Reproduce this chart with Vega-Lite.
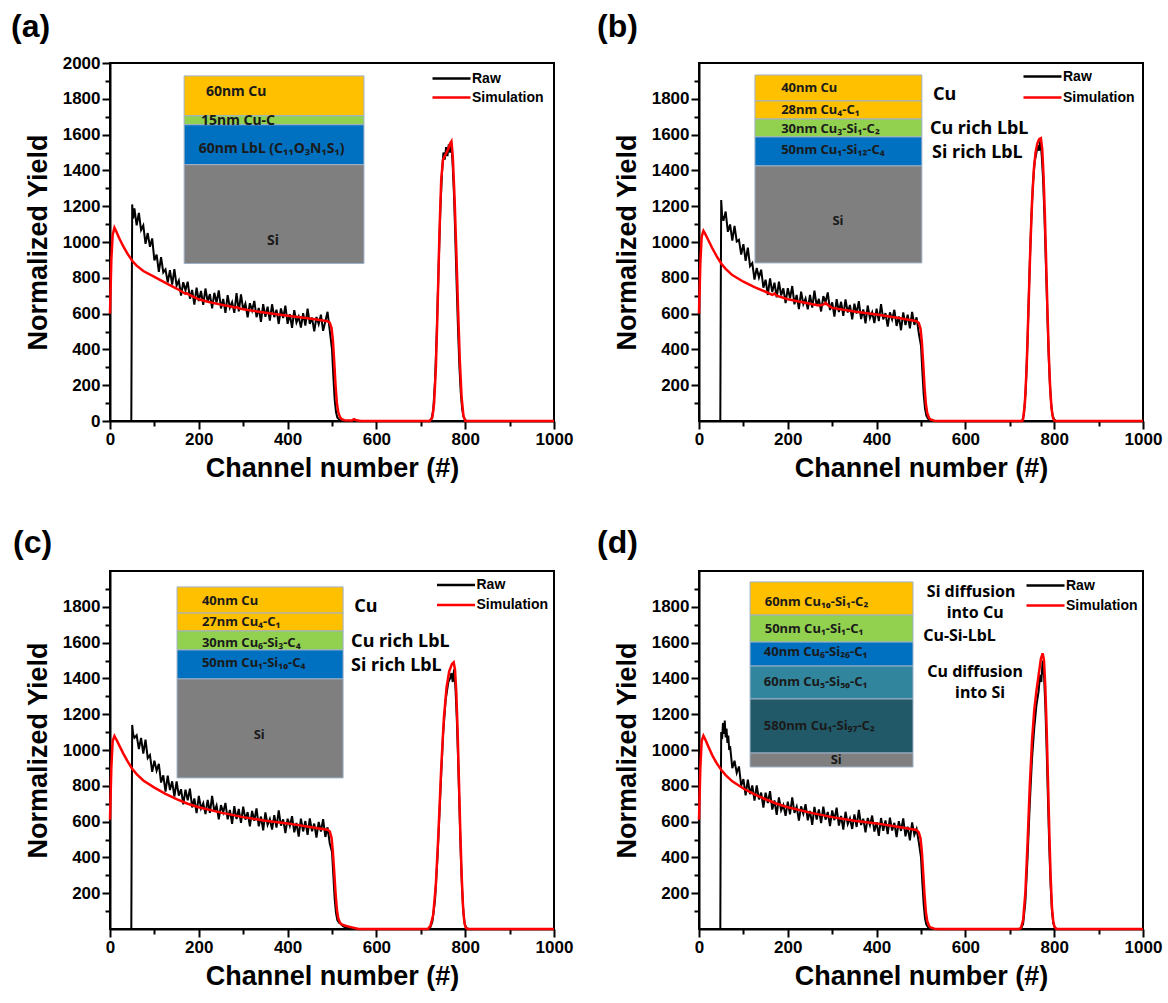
{
"$schema":"https://vega.github.io/schema/vega-lite/v6.json",
"background":"white",
"padding":{"left":10,"top":10,"right":5,"bottom":5},
"config":{
"view":{"stroke":"black","strokeWidth":2},
"font":"Liberation Sans",
"axis":{"domainColor":"black","domainWidth":2,"tickColor":"black","tickWidth":2,"labelFont":"Liberation Sans","labelFontWeight":"bold","labelFontSize":17,"labelColor":"black","titleFont":"Liberation Sans","titleFontWeight":"bold","titleFontSize":27,"titleColor":"black","grid":false,"labelFlush":false,"labelOverlap":false,"labelPadding":2},
"axisX":{"titlePadding":8},
"axisY":{"titlePadding":10},
"legend":{"labelFont":"Liberation Sans","labelFontWeight":"bold","labelFontSize":14,"labelColor":"black","symbolType":"M-2,0H2","symbolSize":361,"symbolStrokeWidth":2.5,"rowPadding":1,"padding":0,"orient":"none","labelOffset":9.5}
},
"datasets":{
"ra":[{"c":0,"y":0},{"c":47,"y":0},{"c":48,"y":0},{"c":49,"y":650},{"c":50,"y":1210},{"c":52,"y":1130},{"c":55,"y":1188},{"c":60,"y":1093},{"c":65,"y":1162},{"c":70,"y":1067},{"c":75,"y":1092},{"c":80,"y":990},{"c":85,"y":1050},{"c":90,"y":973},{"c":95,"y":1020},{"c":100,"y":897},{"c":105,"y":930},{"c":110,"y":833},{"c":115,"y":915},{"c":120,"y":830},{"c":125,"y":847},{"c":130,"y":774},{"c":135,"y":843},{"c":140,"y":762},{"c":145,"y":849},{"c":150,"y":756},{"c":155,"y":784},{"c":160,"y":701},{"c":165,"y":775},{"c":170,"y":730},{"c":175,"y":778},{"c":180,"y":683},{"c":185,"y":732},{"c":190,"y":650},{"c":195,"y":745},{"c":200,"y":670},{"c":205,"y":727},{"c":210,"y":649},{"c":215,"y":740},{"c":220,"y":667},{"c":225,"y":709},{"c":230,"y":629},{"c":235,"y":716},{"c":240,"y":661},{"c":245,"y":730},{"c":250,"y":629},{"c":255,"y":682},{"c":260,"y":604},{"c":265,"y":703},{"c":270,"y":633},{"c":275,"y":664},{"c":280,"y":604},{"c":285,"y":715},{"c":290,"y":613},{"c":295,"y":708},{"c":300,"y":622},{"c":305,"y":656},{"c":310,"y":579},{"c":315,"y":658},{"c":320,"y":618},{"c":325,"y":671},{"c":330,"y":580},{"c":335,"y":632},{"c":340,"y":554},{"c":345,"y":653},{"c":350,"y":582},{"c":355,"y":639},{"c":360,"y":561},{"c":365,"y":652},{"c":370,"y":580},{"c":375,"y":622},{"c":380,"y":542},{"c":385,"y":629},{"c":390,"y":575},{"c":395,"y":644},{"c":400,"y":543},{"c":405,"y":597},{"c":410,"y":520},{"c":415,"y":619},{"c":420,"y":550},{"c":425,"y":582},{"c":430,"y":522},{"c":435,"y":603},{"c":440,"y":533},{"c":445,"y":628},{"c":450,"y":543},{"c":455,"y":578},{"c":460,"y":501},{"c":465,"y":581},{"c":470,"y":541},{"c":475,"y":594},{"c":480,"y":504},{"c":485,"y":557},{"c":490,"y":610},{"c":495,"y":505},{"c":500,"y":400},{"c":503,"y":250},{"c":506,"y":120},{"c":509,"y":50},{"c":512,"y":20},{"c":516,"y":8},{"c":520,"y":3},{"c":525,"y":0},{"c":720,"y":0},{"c":724,"y":10},{"c":728,"y":60},{"c":732,"y":220},{"c":736,"y":500},{"c":740,"y":850},{"c":744,"y":1180},{"c":748,"y":1400},{"c":751,"y":1500},{"c":754,"y":1460},{"c":757,"y":1530},{"c":760,"y":1480},{"c":763,"y":1545},{"c":766,"y":1500},{"c":769,"y":1550},{"c":772,"y":1420},{"c":775,"y":1250},{"c":778,"y":1000},{"c":781,"y":740},{"c":784,"y":500},{"c":787,"y":300},{"c":790,"y":160},{"c":793,"y":70},{"c":796,"y":25},{"c":800,"y":5},{"c":804,"y":0},{"c":1000,"y":0}],
"sa":[{"c":0,"y":600},{"c":3,"y":900},{"c":6,"y":1040},{"c":10,"y":1080},{"c":14,"y":1060},{"c":20,"y":1025},{"c":30,"y":975},{"c":40,"y":932},{"c":50,"y":895},{"c":60,"y":868},{"c":75,"y":838},{"c":100,"y":805},{"c":125,"y":772},{"c":150,"y":740},{"c":165,"y":718},{"c":170,"y":710},{"c":173,"y":714},{"c":178,"y":706},{"c":200,"y":680},{"c":225,"y":663},{"c":250,"y":650},{"c":275,"y":638},{"c":282,"y":633},{"c":286,"y":636},{"c":292,"y":628},{"c":300,"y":624},{"c":350,"y":605},{"c":400,"y":588},{"c":450,"y":572},{"c":490,"y":557},{"c":495,"y":548},{"c":499,"y":520},{"c":502,"y":450},{"c":505,"y":330},{"c":508,"y":200},{"c":511,"y":100},{"c":514,"y":50},{"c":518,"y":22},{"c":522,"y":10},{"c":528,"y":4},{"c":545,"y":3},{"c":550,"y":10},{"c":555,"y":4},{"c":565,"y":0},{"c":720,"y":0},{"c":726,"y":20},{"c":730,"y":100},{"c":734,"y":300},{"c":738,"y":650},{"c":742,"y":1050},{"c":746,"y":1350},{"c":750,"y":1460},{"c":754,"y":1480},{"c":758,"y":1500},{"c":762,"y":1520},{"c":766,"y":1550},{"c":769,"y":1562},{"c":772,"y":1480},{"c":776,"y":1250},{"c":780,"y":950},{"c":784,"y":620},{"c":788,"y":330},{"c":792,"y":130},{"c":796,"y":30},{"c":800,"y":0},{"c":1000,"y":0}],
"rb":[{"c":0,"y":0},{"c":47,"y":0},{"c":48,"y":0},{"c":49,"y":700},{"c":50,"y":1235},{"c":52,"y":1150},{"c":55,"y":1118},{"c":60,"y":1170},{"c":65,"y":1057},{"c":70,"y":1098},{"c":75,"y":1008},{"c":80,"y":1090},{"c":85,"y":1003},{"c":90,"y":1012},{"c":95,"y":930},{"c":100,"y":988},{"c":105,"y":895},{"c":110,"y":968},{"c":115,"y":865},{"c":120,"y":882},{"c":125,"y":790},{"c":130,"y":855},{"c":135,"y":802},{"c":140,"y":845},{"c":145,"y":745},{"c":150,"y":789},{"c":155,"y":704},{"c":160,"y":797},{"c":165,"y":720},{"c":170,"y":773},{"c":175,"y":691},{"c":180,"y":778},{"c":185,"y":702},{"c":190,"y":741},{"c":195,"y":658},{"c":200,"y":742},{"c":205,"y":686},{"c":210,"y":754},{"c":215,"y":652},{"c":220,"y":704},{"c":225,"y":625},{"c":230,"y":723},{"c":235,"y":653},{"c":240,"y":684},{"c":245,"y":624},{"c":250,"y":704},{"c":255,"y":633},{"c":260,"y":728},{"c":265,"y":643},{"c":270,"y":682},{"c":275,"y":612},{"c":280,"y":698},{"c":285,"y":664},{"c":290,"y":718},{"c":295,"y":620},{"c":300,"y":663},{"c":305,"y":583},{"c":310,"y":681},{"c":315,"y":609},{"c":320,"y":666},{"c":325,"y":588},{"c":330,"y":679},{"c":335,"y":606},{"c":340,"y":648},{"c":345,"y":568},{"c":350,"y":655},{"c":355,"y":600},{"c":360,"y":670},{"c":365,"y":569},{"c":370,"y":623},{"c":375,"y":545},{"c":380,"y":645},{"c":385,"y":575},{"c":390,"y":607},{"c":395,"y":547},{"c":400,"y":628},{"c":405,"y":558},{"c":410,"y":653},{"c":415,"y":568},{"c":420,"y":603},{"c":425,"y":527},{"c":430,"y":607},{"c":435,"y":567},{"c":440,"y":621},{"c":445,"y":531},{"c":450,"y":584},{"c":455,"y":507},{"c":460,"y":607},{"c":465,"y":536},{"c":470,"y":594},{"c":475,"y":517},{"c":480,"y":609},{"c":485,"y":537},{"c":490,"y":579},{"c":495,"y":490},{"c":500,"y":420},{"c":503,"y":280},{"c":506,"y":150},{"c":509,"y":70},{"c":512,"y":30},{"c":516,"y":12},{"c":520,"y":5},{"c":526,"y":0},{"c":728,"y":0},{"c":732,"y":40},{"c":736,"y":180},{"c":740,"y":450},{"c":744,"y":800},{"c":748,"y":1100},{"c":752,"y":1320},{"c":756,"y":1450},{"c":760,"y":1500},{"c":763,"y":1540},{"c":766,"y":1510},{"c":769,"y":1570},{"c":772,"y":1480},{"c":775,"y":1350},{"c":778,"y":1150},{"c":781,"y":900},{"c":784,"y":650},{"c":787,"y":400},{"c":790,"y":220},{"c":793,"y":100},{"c":796,"y":35},{"c":800,"y":8},{"c":804,"y":0},{"c":1000,"y":0}],
"sb":[{"c":0,"y":600},{"c":3,"y":880},{"c":6,"y":1030},{"c":10,"y":1062},{"c":14,"y":1045},{"c":20,"y":1015},{"c":30,"y":965},{"c":40,"y":920},{"c":50,"y":880},{"c":60,"y":850},{"c":75,"y":815},{"c":100,"y":778},{"c":125,"y":748},{"c":150,"y":722},{"c":165,"y":705},{"c":170,"y":712},{"c":175,"y":700},{"c":200,"y":680},{"c":225,"y":668},{"c":250,"y":655},{"c":270,"y":645},{"c":280,"y":650},{"c":285,"y":660},{"c":290,"y":648},{"c":300,"y":632},{"c":350,"y":612},{"c":400,"y":595},{"c":450,"y":575},{"c":490,"y":557},{"c":495,"y":548},{"c":499,"y":515},{"c":502,"y":440},{"c":505,"y":320},{"c":508,"y":190},{"c":511,"y":95},{"c":514,"y":45},{"c":518,"y":18},{"c":522,"y":8},{"c":530,"y":2},{"c":540,"y":0},{"c":728,"y":0},{"c":730,"y":10},{"c":734,"y":100},{"c":738,"y":300},{"c":742,"y":620},{"c":746,"y":950},{"c":750,"y":1220},{"c":754,"y":1400},{"c":758,"y":1500},{"c":762,"y":1550},{"c":766,"y":1575},{"c":770,"y":1580},{"c":773,"y":1520},{"c":776,"y":1370},{"c":779,"y":1150},{"c":782,"y":880},{"c":785,"y":600},{"c":788,"y":360},{"c":791,"y":180},{"c":794,"y":70},{"c":797,"y":20},{"c":800,"y":3},{"c":803,"y":0},{"c":1000,"y":0}],
"rc":[{"c":0,"y":0},{"c":47,"y":0},{"c":48,"y":0},{"c":49,"y":650},{"c":50,"y":1140},{"c":52,"y":1090},{"c":55,"y":1068},{"c":60,"y":1082},{"c":65,"y":1005},{"c":70,"y":1068},{"c":75,"y":980},{"c":80,"y":1058},{"c":85,"y":955},{"c":90,"y":972},{"c":95,"y":878},{"c":100,"y":940},{"c":105,"y":884},{"c":110,"y":923},{"c":115,"y":818},{"c":120,"y":858},{"c":125,"y":768},{"c":130,"y":857},{"c":135,"y":776},{"c":140,"y":825},{"c":145,"y":740},{"c":150,"y":824},{"c":155,"y":745},{"c":160,"y":781},{"c":165,"y":696},{"c":170,"y":778},{"c":175,"y":719},{"c":180,"y":784},{"c":185,"y":679},{"c":190,"y":729},{"c":195,"y":648},{"c":200,"y":744},{"c":205,"y":673},{"c":210,"y":703},{"c":215,"y":642},{"c":220,"y":721},{"c":225,"y":649},{"c":230,"y":743},{"c":235,"y":656},{"c":240,"y":690},{"c":245,"y":613},{"c":250,"y":692},{"c":255,"y":651},{"c":260,"y":704},{"c":265,"y":613},{"c":270,"y":665},{"c":275,"y":587},{"c":280,"y":686},{"c":285,"y":614},{"c":290,"y":671},{"c":295,"y":593},{"c":300,"y":684},{"c":305,"y":611},{"c":310,"y":653},{"c":315,"y":573},{"c":320,"y":660},{"c":325,"y":605},{"c":330,"y":674},{"c":335,"y":574},{"c":340,"y":628},{"c":345,"y":551},{"c":350,"y":651},{"c":355,"y":582},{"c":360,"y":614},{"c":365,"y":555},{"c":370,"y":636},{"c":375,"y":566},{"c":380,"y":662},{"c":385,"y":577},{"c":390,"y":612},{"c":395,"y":536},{"c":400,"y":616},{"c":405,"y":576},{"c":410,"y":630},{"c":415,"y":540},{"c":420,"y":593},{"c":425,"y":516},{"c":430,"y":616},{"c":435,"y":545},{"c":440,"y":603},{"c":445,"y":526},{"c":450,"y":618},{"c":455,"y":546},{"c":460,"y":589},{"c":465,"y":510},{"c":470,"y":598},{"c":475,"y":544},{"c":480,"y":614},{"c":485,"y":514},{"c":490,"y":568},{"c":495,"y":478},{"c":500,"y":430},{"c":503,"y":300},{"c":506,"y":170},{"c":509,"y":90},{"c":512,"y":50},{"c":516,"y":35},{"c":520,"y":28},{"c":525,"y":15},{"c":530,"y":8},{"c":540,"y":3},{"c":550,"y":0},{"c":720,"y":0},{"c":726,"y":40},{"c":732,"y":160},{"c":738,"y":420},{"c":744,"y":760},{"c":750,"y":1080},{"c":756,"y":1280},{"c":762,"y":1380},{"c":766,"y":1400},{"c":769,"y":1430},{"c":772,"y":1380},{"c":775,"y":1450},{"c":778,"y":1350},{"c":781,"y":1180},{"c":784,"y":950},{"c":787,"y":680},{"c":790,"y":420},{"c":793,"y":220},{"c":796,"y":90},{"c":799,"y":25},{"c":803,"y":5},{"c":808,"y":0},{"c":1000,"y":0}],
"sc":[{"c":0,"y":610},{"c":3,"y":900},{"c":6,"y":1050},{"c":10,"y":1078},{"c":14,"y":1060},{"c":20,"y":1030},{"c":30,"y":980},{"c":40,"y":935},{"c":50,"y":895},{"c":60,"y":865},{"c":75,"y":830},{"c":100,"y":790},{"c":125,"y":755},{"c":150,"y":725},{"c":175,"y":700},{"c":200,"y":680},{"c":250,"y":650},{"c":300,"y":625},{"c":350,"y":605},{"c":400,"y":590},{"c":450,"y":570},{"c":490,"y":555},{"c":495,"y":545},{"c":499,"y":510},{"c":502,"y":430},{"c":505,"y":320},{"c":508,"y":200},{"c":511,"y":110},{"c":514,"y":60},{"c":518,"y":35},{"c":522,"y":25},{"c":530,"y":18},{"c":540,"y":12},{"c":550,"y":6},{"c":560,"y":0},{"c":716,"y":0},{"c":722,"y":20},{"c":728,"y":80},{"c":734,"y":250},{"c":740,"y":550},{"c":746,"y":900},{"c":752,"y":1180},{"c":758,"y":1350},{"c":764,"y":1440},{"c":770,"y":1480},{"c":774,"y":1490},{"c":777,"y":1450},{"c":780,"y":1320},{"c":783,"y":1100},{"c":786,"y":820},{"c":789,"y":540},{"c":792,"y":300},{"c":795,"y":130},{"c":798,"y":40},{"c":801,"y":8},{"c":805,"y":0},{"c":1000,"y":0}],
"rd":[{"c":0,"y":0},{"c":47,"y":0},{"c":48,"y":0},{"c":49,"y":700},{"c":50,"y":1100},{"c":52,"y":1060},{"c":54,"y":1150},{"c":56,"y":1090},{"c":58,"y":1165},{"c":60,"y":1070},{"c":62,"y":1120},{"c":64,"y":1040},{"c":66,"y":1080},{"c":68,"y":1000},{"c":70,"y":1022},{"c":75,"y":898},{"c":80,"y":940},{"c":85,"y":872},{"c":90,"y":908},{"c":95,"y":800},{"c":100,"y":837},{"c":105,"y":746},{"c":110,"y":834},{"c":115,"y":753},{"c":120,"y":802},{"c":125,"y":717},{"c":130,"y":802},{"c":135,"y":724},{"c":140,"y":762},{"c":145,"y":678},{"c":150,"y":762},{"c":155,"y":704},{"c":160,"y":770},{"c":165,"y":667},{"c":170,"y":718},{"c":175,"y":638},{"c":180,"y":735},{"c":185,"y":663},{"c":190,"y":693},{"c":195,"y":632},{"c":200,"y":711},{"c":205,"y":640},{"c":210,"y":735},{"c":215,"y":649},{"c":220,"y":683},{"c":225,"y":606},{"c":230,"y":685},{"c":235,"y":644},{"c":240,"y":697},{"c":245,"y":607},{"c":250,"y":660},{"c":255,"y":582},{"c":260,"y":682},{"c":265,"y":611},{"c":270,"y":668},{"c":275,"y":591},{"c":280,"y":683},{"c":285,"y":611},{"c":290,"y":654},{"c":295,"y":575},{"c":300,"y":662},{"c":305,"y":608},{"c":310,"y":678},{"c":315,"y":578},{"c":320,"y":632},{"c":325,"y":555},{"c":330,"y":655},{"c":335,"y":586},{"c":340,"y":618},{"c":345,"y":559},{"c":350,"y":640},{"c":355,"y":570},{"c":360,"y":666},{"c":365,"y":581},{"c":370,"y":616},{"c":375,"y":540},{"c":380,"y":620},{"c":385,"y":580},{"c":390,"y":634},{"c":395,"y":544},{"c":400,"y":597},{"c":405,"y":520},{"c":410,"y":620},{"c":415,"y":549},{"c":420,"y":607},{"c":425,"y":530},{"c":430,"y":622},{"c":435,"y":550},{"c":440,"y":593},{"c":445,"y":514},{"c":450,"y":602},{"c":455,"y":548},{"c":460,"y":618},{"c":465,"y":518},{"c":470,"y":572},{"c":475,"y":495},{"c":480,"y":595},{"c":485,"y":526},{"c":490,"y":558},{"c":495,"y":485},{"c":500,"y":400},{"c":503,"y":260},{"c":506,"y":140},{"c":509,"y":60},{"c":512,"y":25},{"c":516,"y":10},{"c":520,"y":4},{"c":526,"y":0},{"c":725,"y":0},{"c":730,"y":30},{"c":735,"y":150},{"c":740,"y":400},{"c":745,"y":700},{"c":750,"y":950},{"c":755,"y":1120},{"c":760,"y":1250},{"c":765,"y":1330},{"c":768,"y":1420},{"c":771,"y":1380},{"c":774,"y":1500},{"c":777,"y":1420},{"c":780,"y":1250},{"c":783,"y":1000},{"c":786,"y":720},{"c":789,"y":450},{"c":792,"y":240},{"c":795,"y":100},{"c":798,"y":30},{"c":802,"y":5},{"c":806,"y":0},{"c":1000,"y":0}],
"sd":[{"c":0,"y":610},{"c":3,"y":900},{"c":6,"y":1050},{"c":10,"y":1080},{"c":14,"y":1060},{"c":20,"y":1025},{"c":30,"y":970},{"c":40,"y":925},{"c":50,"y":890},{"c":60,"y":860},{"c":75,"y":825},{"c":100,"y":785},{"c":125,"y":752},{"c":150,"y":725},{"c":175,"y":700},{"c":200,"y":680},{"c":250,"y":650},{"c":300,"y":625},{"c":350,"y":605},{"c":400,"y":590},{"c":450,"y":570},{"c":490,"y":553},{"c":495,"y":540},{"c":499,"y":505},{"c":502,"y":430},{"c":505,"y":310},{"c":508,"y":190},{"c":511,"y":95},{"c":514,"y":45},{"c":518,"y":18},{"c":522,"y":8},{"c":530,"y":2},{"c":540,"y":0},{"c":720,"y":0},{"c":725,"y":5},{"c":730,"y":50},{"c":735,"y":200},{"c":740,"y":480},{"c":745,"y":800},{"c":750,"y":1050},{"c":755,"y":1220},{"c":760,"y":1330},{"c":765,"y":1420},{"c":770,"y":1510},{"c":774,"y":1540},{"c":777,"y":1500},{"c":780,"y":1350},{"c":783,"y":1120},{"c":786,"y":830},{"c":789,"y":540},{"c":792,"y":290},{"c":795,"y":120},{"c":798,"y":40},{"c":801,"y":10},{"c":805,"y":0},{"c":1000,"y":0}],
"ia":[{"m":"Cu","x0":167,"x1":572,"y0":1705,"y1":1928},{"m":"Cu-C","x0":167,"x1":572,"y0":1655,"y1":1705},{"m":"LbL","x0":167,"x1":572,"y0":1432,"y1":1655},{"m":"Si","x0":167,"x1":572,"y0":880,"y1":1432}],
"ib":[{"m":"Cu","x0":126,"x1":502,"y0":1788,"y1":1933},{"m":"Cu","x0":126,"x1":502,"y0":1687,"y1":1788},{"m":"Cu-C","x0":126,"x1":502,"y0":1587,"y1":1687},{"m":"LbL","x0":126,"x1":502,"y0":1425,"y1":1587},{"m":"Si","x0":126,"x1":502,"y0":883,"y1":1425}],
"ic":[{"m":"Cu","x0":151,"x1":525,"y0":1765,"y1":1911},{"m":"Cu","x0":151,"x1":525,"y0":1665,"y1":1765},{"m":"Cu-C","x0":151,"x1":525,"y0":1559,"y1":1665},{"m":"LbL","x0":151,"x1":525,"y0":1397,"y1":1559},{"m":"Si","x0":151,"x1":525,"y0":844,"y1":1397}],
"id":[{"m":"Cu","x0":115,"x1":482,"y0":1754,"y1":1939},{"m":"Cu-C","x0":115,"x1":482,"y0":1603,"y1":1754},{"m":"LbL","x0":115,"x1":482,"y0":1469,"y1":1603},{"m":"Cu-Si mix","x0":115,"x1":482,"y0":1285,"y1":1469},{"m":"Si-rich","x0":115,"x1":482,"y0":983,"y1":1285},{"m":"Si","x0":115,"x1":482,"y0":905,"y1":983}],
"ta":[{"t":"60nm  Cu","x":216,"y":1838,"k":"l"},{"t":"15nm  Cu-C","x":205,"y":1677,"k":"l"},{"t":"60nm  LbL (C₁₁O₃N₁S₁)","x":200,"y":1521,"k":"l"},{"t":"Si","x":367,"y":1008,"k":"m"}],
"tb":[{"t":"40nm Cu","x":185,"y":1860,"k":"l"},{"t":"28nm Cu₄-C₁","x":185,"y":1737,"k":"l"},{"t":"30nm Cu₃-Si₁-C₂","x":185,"y":1631,"k":"l"},{"t":"50nm Cu₁-Si₁₂-C₄","x":185,"y":1514,"k":"l"},{"t":"Si","x":313,"y":1117,"k":"m"},{"t":"Cu","x":527,"y":1821,"k":"s"},{"t":"Cu rich LbL","x":520,"y":1631,"k":"s"},{"t":"Si rich LbL","x":525,"y":1497,"k":"s"}],
"tc":[{"t":"40nm Cu","x":207,"y":1832,"k":"l"},{"t":"27nm Cu₄-C₁","x":207,"y":1715,"k":"l"},{"t":"30nm Cu₆-Si₃-C₄","x":207,"y":1598,"k":"l"},{"t":"50nm Cu₁-Si₁₀-C₄","x":207,"y":1486,"k":"l"},{"t":"Si","x":336,"y":1084,"k":"m"},{"t":"Cu","x":550,"y":1799,"k":"s"},{"t":"Cu rich LbL","x":543,"y":1603,"k":"s"},{"t":"Si rich LbL","x":543,"y":1469,"k":"s"}],
"td":[{"t":"60nm Cu₁₀-Si₁-C₂","x":148,"y":1827,"k":"l"},{"t":"50nm Cu₁-Si₁-C₁","x":148,"y":1676,"k":"l"},{"t":"40nm Cu₆-Si₂₆-C₁","x":146,"y":1547,"k":"l"},{"t":"60nm Cu₅-Si₅₀-C₁","x":146,"y":1380,"k":"l"},{"t":"580nm Cu₁-Si₉₇-C₂","x":146,"y":1134,"k":"l"},{"t":"Si","x":309,"y":944,"k":"m"},{"t":"Si diffusion","x":613,"y":1880,"k":"c"},{"t":"into Cu","x":622,"y":1768,"k":"c"},{"t":"Cu-Si-LbL","x":505,"y":1637,"k":"s"},{"t":"Cu diffusion","x":622,"y":1433,"k":"c"},{"t":"into Si","x":633,"y":1321,"k":"c"}]
},
"spacing":44,
"resolve":{"scale":{"color":"independent"},"legend":{"color":"independent"}},
"vconcat":[
{"spacing":22,"resolve":{"scale":{"color":"independent"},"legend":{"color":"independent"}},
"hconcat":[
{"width":444,"height":358,
"title":{"text":"(a)","anchor":"start","frame":"group","dx":-99,"offset":10,"fontSize":32,"fontWeight":"bold","font":"Liberation Sans","color":"black"},
"resolve":{"axis":{"x":"independent","y":"independent"}},
"layer":[
{"data":{"name":"ia"},"mark":{"type":"rect","stroke":"#9FB1C8","strokeWidth":1},"encoding":{"x":{"field":"x0","type":"quantitative","axis":null},"x2":{"field":"x1"},"y":{"field":"y0","type":"quantitative","axis":null},"y2":{"field":"y1"},"fill":{"field":"m","type":"nominal","legend":null,"scale":{"domain":["Cu","Cu-C","LbL","Si","Cu-Si mix","Si-rich"],"range":["#FFC000","#92D050","#0070C0","#7F7F7F","#31859C","#215968"]}}}},
{"data":{"name":"ta"},"transform":[{"filter":"datum.k == 'l'"}],"mark":{"type":"text","align":"left","baseline":"middle","font":"Noto Sans","fontWeight":"bold","fontSize":14,"color":"#1a1a1a"},"encoding":{"x":{"field":"x","type":"quantitative","axis":null},"y":{"field":"y","type":"quantitative","axis":null},"text":{"field":"t"}}},
{"data":{"name":"ta"},"transform":[{"filter":"datum.k == 'm'"}],"mark":{"type":"text","align":"center","baseline":"middle","font":"Noto Sans","fontWeight":"bold","fontSize":14,"color":"#1a1a1a"},"encoding":{"x":{"field":"x","type":"quantitative","axis":null},"y":{"field":"y","type":"quantitative","axis":null},"text":{"field":"t"}}},
{"data":{"name":"ra"},"mark":{"type":"line","strokeWidth":2},"encoding":{
"x":{"field":"c","type":"quantitative","scale":{"domain":[0,1000],"nice":false},"axis":{"orient":"bottom","title":"Channel number (#)","format":"d","values":[0,200,400,600,800,1000],"tickSize":8}},
"y":{"field":"y","type":"quantitative","scale":{"domain":[0,2000],"nice":false},"axis":{"orient":"left","title":"Normalized Yield","format":"d","values":[0,200,400,600,800,1000,1200,1400,1600,1800,2000],"tickSize":8}},
"color":{"datum":"Raw","type":"nominal","scale":{"domain":["Raw","Simulation"],"range":["black","#FF0000"]},"legend":{"title":null,"legendX":330.5,"legendY":4.5}}}},
{"data":{"name":"sa"},"mark":{"type":"line","strokeWidth":2.5},"encoding":{
"x":{"field":"c","type":"quantitative","axis":{"orient":"bottom","title":null,"labels":false,"domain":false,"values":[100,300,500,700,900],"tickSize":5}},
"y":{"field":"y","type":"quantitative","axis":{"orient":"left","title":null,"labels":false,"domain":false,"values":[100,300,500,700,900,1100,1300,1500,1700,1900],"tickSize":5}},
"color":{"datum":"Simulation","type":"nominal"}}}
]},
{"width":444,"height":358,
"title":{"text":"(b)","anchor":"start","frame":"group","dx":-102,"offset":19,"fontSize":32,"fontWeight":"bold","font":"Liberation Sans","color":"black"},
"resolve":{"axis":{"x":"independent","y":"independent"}},
"layer":[
{"data":{"name":"ib"},"mark":{"type":"rect","stroke":"#9FB1C8","strokeWidth":1},"encoding":{"x":{"field":"x0","type":"quantitative","axis":null},"x2":{"field":"x1"},"y":{"field":"y0","type":"quantitative","axis":null},"y2":{"field":"y1"},"fill":{"field":"m","type":"nominal","legend":null,"scale":{"domain":["Cu","Cu-C","LbL","Si","Cu-Si mix","Si-rich"],"range":["#FFC000","#92D050","#0070C0","#7F7F7F","#31859C","#215968"]}}}},
{"data":{"name":"tb"},"transform":[{"filter":"datum.k == 'l'"}],"mark":{"type":"text","align":"left","baseline":"middle","font":"Noto Sans","fontWeight":"bold","fontSize":13,"color":"#1a1a1a"},"encoding":{"x":{"field":"x","type":"quantitative","axis":null},"y":{"field":"y","type":"quantitative","axis":null},"text":{"field":"t"}}},
{"data":{"name":"tb"},"transform":[{"filter":"datum.k == 'm'"}],"mark":{"type":"text","align":"center","baseline":"middle","font":"Noto Sans","fontWeight":"bold","fontSize":13,"color":"#1a1a1a"},"encoding":{"x":{"field":"x","type":"quantitative","axis":null},"y":{"field":"y","type":"quantitative","axis":null},"text":{"field":"t"}}},
{"data":{"name":"tb"},"transform":[{"filter":"datum.k == 's'"}],"mark":{"type":"text","align":"left","baseline":"middle","font":"Noto Sans","fontWeight":"bold","fontSize":18,"color":"black"},"encoding":{"x":{"field":"x","type":"quantitative","axis":null},"y":{"field":"y","type":"quantitative","axis":null},"text":{"field":"t"}}},
{"data":{"name":"rb"},"mark":{"type":"line","strokeWidth":2},"encoding":{
"x":{"field":"c","type":"quantitative","scale":{"domain":[0,1000],"nice":false},"axis":{"orient":"bottom","title":"Channel number (#)","format":"d","values":[0,200,400,600,800,1000],"tickSize":8}},
"y":{"field":"y","type":"quantitative","scale":{"domain":[0,2000],"nice":false},"axis":{"orient":"left","title":"Normalized Yield","format":"d","values":[200,400,600,800,1000,1200,1400,1600,1800],"tickSize":8}},
"color":{"datum":"Raw","type":"nominal","scale":{"domain":["Raw","Simulation"],"range":["black","#FF0000"]},"legend":{"title":null,"legendX":332.5,"legendY":2.5,"rowPadding":3}}}},
{"data":{"name":"sb"},"mark":{"type":"line","strokeWidth":2.5},"encoding":{
"x":{"field":"c","type":"quantitative","axis":{"orient":"bottom","title":null,"labels":false,"domain":false,"values":[100,300,500,700,900],"tickSize":5}},
"y":{"field":"y","type":"quantitative","axis":{"orient":"left","title":null,"labels":false,"domain":false,"values":[100,300,500,700,900,1100,1300,1500,1700,1900],"tickSize":5}},
"color":{"datum":"Simulation","type":"nominal"}}}
]}
]},
{"spacing":22,"resolve":{"scale":{"color":"independent"},"legend":{"color":"independent"}},
"hconcat":[
{"width":444,"height":358,
"title":{"text":"(c)","anchor":"start","frame":"group","dx":-97,"offset":11,"fontSize":32,"fontWeight":"bold","font":"Liberation Sans","color":"black"},
"resolve":{"axis":{"x":"independent","y":"independent"}},
"layer":[
{"data":{"name":"ic"},"mark":{"type":"rect","stroke":"#9FB1C8","strokeWidth":1},"encoding":{"x":{"field":"x0","type":"quantitative","axis":null},"x2":{"field":"x1"},"y":{"field":"y0","type":"quantitative","axis":null},"y2":{"field":"y1"},"fill":{"field":"m","type":"nominal","legend":null,"scale":{"domain":["Cu","Cu-C","LbL","Si","Cu-Si mix","Si-rich"],"range":["#FFC000","#92D050","#0070C0","#7F7F7F","#31859C","#215968"]}}}},
{"data":{"name":"tc"},"transform":[{"filter":"datum.k == 'l'"}],"mark":{"type":"text","align":"left","baseline":"middle","font":"Noto Sans","fontWeight":"bold","fontSize":13,"color":"#1a1a1a"},"encoding":{"x":{"field":"x","type":"quantitative","axis":null},"y":{"field":"y","type":"quantitative","axis":null},"text":{"field":"t"}}},
{"data":{"name":"tc"},"transform":[{"filter":"datum.k == 'm'"}],"mark":{"type":"text","align":"center","baseline":"middle","font":"Noto Sans","fontWeight":"bold","fontSize":13,"color":"#1a1a1a"},"encoding":{"x":{"field":"x","type":"quantitative","axis":null},"y":{"field":"y","type":"quantitative","axis":null},"text":{"field":"t"}}},
{"data":{"name":"tc"},"transform":[{"filter":"datum.k == 's'"}],"mark":{"type":"text","align":"left","baseline":"middle","font":"Noto Sans","fontWeight":"bold","fontSize":18,"color":"black"},"encoding":{"x":{"field":"x","type":"quantitative","axis":null},"y":{"field":"y","type":"quantitative","axis":null},"text":{"field":"t"}}},
{"data":{"name":"rc"},"mark":{"type":"line","strokeWidth":2},"encoding":{
"x":{"field":"c","type":"quantitative","scale":{"domain":[0,1000],"nice":false},"axis":{"orient":"bottom","title":"Channel number (#)","format":"d","values":[0,200,400,600,800,1000],"tickSize":8}},
"y":{"field":"y","type":"quantitative","scale":{"domain":[0,2000],"nice":false},"axis":{"orient":"left","title":"Normalized Yield","format":"d","values":[200,400,600,800,1000,1200,1400,1600,1800],"tickSize":8}},
"color":{"datum":"Raw","type":"nominal","scale":{"domain":["Raw","Simulation"],"range":["black","#FF0000"]},"legend":{"title":null,"legendX":335,"legendY":3,"rowPadding":2}}}},
{"data":{"name":"sc"},"mark":{"type":"line","strokeWidth":2.5},"encoding":{
"x":{"field":"c","type":"quantitative","axis":{"orient":"bottom","title":null,"labels":false,"domain":false,"values":[100,300,500,700,900],"tickSize":5}},
"y":{"field":"y","type":"quantitative","axis":{"orient":"left","title":null,"labels":false,"domain":false,"values":[100,300,500,700,900,1100,1300,1500,1700,1900],"tickSize":5}},
"color":{"datum":"Simulation","type":"nominal"}}}
]},
{"width":444,"height":358,
"title":{"text":"(d)","anchor":"start","frame":"group","dx":-102,"offset":11,"fontSize":32,"fontWeight":"bold","font":"Liberation Sans","color":"black"},
"resolve":{"axis":{"x":"independent","y":"independent"}},
"layer":[
{"data":{"name":"id"},"mark":{"type":"rect","stroke":"#9FB1C8","strokeWidth":1},"encoding":{"x":{"field":"x0","type":"quantitative","axis":null},"x2":{"field":"x1"},"y":{"field":"y0","type":"quantitative","axis":null},"y2":{"field":"y1"},"fill":{"field":"m","type":"nominal","legend":null,"scale":{"domain":["Cu","Cu-C","LbL","Si","Cu-Si mix","Si-rich"],"range":["#FFC000","#92D050","#0070C0","#7F7F7F","#31859C","#215968"]}}}},
{"data":{"name":"td"},"transform":[{"filter":"datum.k == 'l'"}],"mark":{"type":"text","align":"left","baseline":"middle","font":"Noto Sans","fontWeight":"bold","fontSize":13,"color":"#1a1a1a"},"encoding":{"x":{"field":"x","type":"quantitative","axis":null},"y":{"field":"y","type":"quantitative","axis":null},"text":{"field":"t"}}},
{"data":{"name":"td"},"transform":[{"filter":"datum.k == 'm'"}],"mark":{"type":"text","align":"center","baseline":"middle","font":"Noto Sans","fontWeight":"bold","fontSize":13,"color":"#1a1a1a"},"encoding":{"x":{"field":"x","type":"quantitative","axis":null},"y":{"field":"y","type":"quantitative","axis":null},"text":{"field":"t"}}},
{"data":{"name":"td"},"transform":[{"filter":"datum.k == 's'"}],"mark":{"type":"text","align":"left","baseline":"middle","font":"Noto Sans","fontWeight":"bold","fontSize":16,"color":"black"},"encoding":{"x":{"field":"x","type":"quantitative","axis":null},"y":{"field":"y","type":"quantitative","axis":null},"text":{"field":"t"}}},
{"data":{"name":"td"},"transform":[{"filter":"datum.k == 'c'"}],"mark":{"type":"text","align":"center","baseline":"middle","font":"Noto Sans","fontWeight":"bold","fontSize":16,"color":"black"},"encoding":{"x":{"field":"x","type":"quantitative","axis":null},"y":{"field":"y","type":"quantitative","axis":null},"text":{"field":"t"}}},
{"data":{"name":"rd"},"mark":{"type":"line","strokeWidth":2},"encoding":{
"x":{"field":"c","type":"quantitative","scale":{"domain":[0,1000],"nice":false},"axis":{"orient":"bottom","title":"Channel number (#)","format":"d","values":[0,200,400,600,800,1000],"tickSize":8}},
"y":{"field":"y","type":"quantitative","scale":{"domain":[0,2000],"nice":false},"axis":{"orient":"left","title":"Normalized Yield","format":"d","values":[200,400,600,800,1000,1200,1400,1600,1800],"tickSize":8}},
"color":{"datum":"Raw","type":"nominal","scale":{"domain":["Raw","Simulation"],"range":["black","#FF0000"]},"legend":{"title":null,"legendX":335.5,"legendY":3.5,"rowPadding":2}}}},
{"data":{"name":"sd"},"mark":{"type":"line","strokeWidth":2.5},"encoding":{
"x":{"field":"c","type":"quantitative","axis":{"orient":"bottom","title":null,"labels":false,"domain":false,"values":[100,300,500,700,900],"tickSize":5}},
"y":{"field":"y","type":"quantitative","axis":{"orient":"left","title":null,"labels":false,"domain":false,"values":[100,300,500,700,900,1100,1300,1500,1700,1900],"tickSize":5}},
"color":{"datum":"Simulation","type":"nominal"}}}
]}
]}
]
}
